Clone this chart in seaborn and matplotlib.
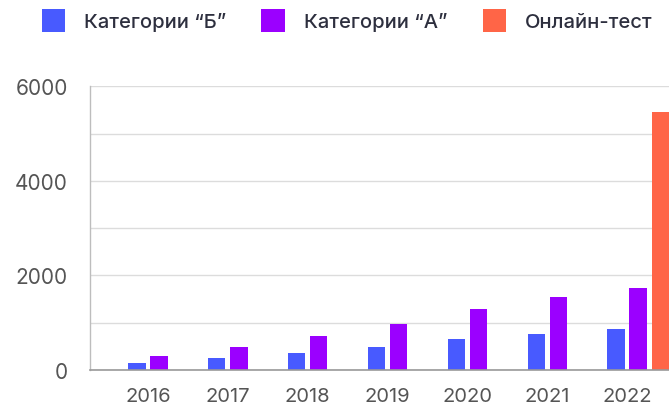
import matplotlib
matplotlib.use("Agg")
import matplotlib.pyplot as plt
import seaborn as sns
import pandas as pd
import numpy as np

years = ["2016", "2017", "2018", "2019", "2020", "2021", "2022"]
cat_b = [155, 247, 366, 490, 648, 754, 860]
cat_a = [296, 480, 725, 982, 1296, 1536, 1733]
online_years = ["2022"]
online = [5460]
labels = ["Категории “Б”", "Категории “А”", "Онлайн-тест"]
colors = ["#485AFF", "#9B00FF", "#FF6547"]

rows = []
for y, v in zip(years, cat_b):
    rows.append({"year": y, "group": labels[0], "value": v})
for y, v in zip(years, cat_a):
    rows.append({"year": y, "group": labels[1], "value": v})
for y, v in zip(online_years, online):
    rows.append({"year": y, "group": labels[2], "value": v})
df = pd.DataFrame(rows)

sns.set_theme(style="white")
plt.rcParams["font.family"] = ["Inter", "DejaVu Sans"]

fig = plt.figure(figsize=(6.69, 4.06), dpi=100)
W = 0.83
ax = fig.add_axes([90/669, 35/406, (678-90)/669, (371-87.3)/406])
sns.barplot(data=df, x="year", y="value", hue="group", hue_order=labels,
            order=years, palette=colors, width=W, gap=0.22, dodge=True,
            linewidth=0, saturation=1, ax=ax, legend=True)

ax.set_ylim(0, 6000)
ax.set_xlim(-0.865, 6.5)
ax.set_yticks([0, 2000, 4000, 6000])
ax.set_yticks([1000, 3000, 5000], minor=True)
ax.set_xticks([i - W/6 for i in range(len(years))])
ax.set_xticklabels(years)
ax.set_xlabel("")
ax.set_ylabel("")
ax.grid(True, axis="y", which="both", color="#dcdcdc", linewidth=1)
ax.set_axisbelow(True)
for s in ["top", "right"]:
    ax.spines[s].set_visible(False)
ax.spines["left"].set_color("#bdbdbd")
ax.spines["left"].set_linewidth(1)
ax.spines["bottom"].set_color("#999999")
ax.spines["bottom"].set_linewidth(1.2)
ax.tick_params(axis="y", which="both", length=8, color="#dcdcdc", width=1,
               labelsize=15, labelcolor="#555555", pad=8)
ax.tick_params(axis="x", length=0, labelsize=14.5, labelcolor="#555555", pad=12)

handles, lbls = ax.get_legend_handles_labels()
ax.get_legend().remove()
leg = fig.legend(handles, lbls, loc="center left", bbox_to_anchor=(41.7/669, 1 - 21.5/406),
                 ncol=3, frameon=False,
                 prop={"family": ["Inter", "DejaVu Sans"], "size": 14.5, "weight": "medium"},
                 labelcolor="#2d2f3e",
                 handlelength=1.15, handleheight=1.45, handletextpad=0.95,
                 columnspacing=1.75, borderaxespad=0, borderpad=0)

fig.savefig("out.png", dpi=100)
